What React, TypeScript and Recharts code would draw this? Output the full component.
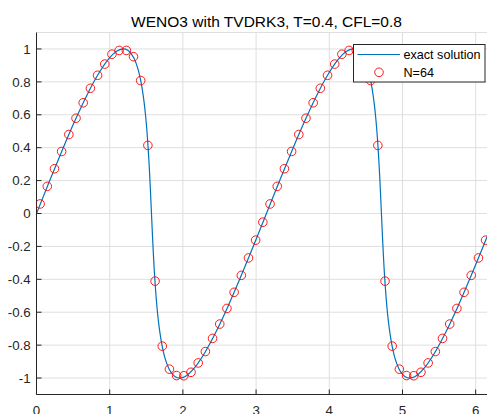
import React from "react";
import { ComposedChart, Line, Scatter, XAxis, YAxis, CartesianGrid } from "recharts";

const TITLE = "WENO3 with TVDRK3, T=0.4, CFL=0.8";
const xTicks = [0, 1, 2, 3, 4, 5, 6];
const yTicks = [-1, -0.8, -0.6, -0.4, -0.2, 0, 0.2, 0.4, 0.6, 0.8, 1];

// exact solution curve
const exactX = [
  0, 0.1795, 0.3558, 0.5258, 0.687, 0.8366, 0.9728, 1.0942, 1.149, 1.1854,
  1.2467, 1.2895, 1.3285, 1.3637, 1.3953, 1.4234, 1.4483, 1.4702, 1.4894, 1.5062,
  1.521, 1.534, 1.5457, 1.5564, 1.5708, 1.5852, 1.5959, 1.6076, 1.6206, 1.6354,
  1.6522, 1.6714, 1.6933, 1.7182, 1.7463, 1.7779, 1.8131, 1.8521, 1.8949, 1.9562,
  1.9926, 2.0474, 2.1688, 2.305, 2.4546, 2.6158, 2.7858, 2.9621, 3.1416,
  3.3211, 3.4974, 3.6674, 3.8286, 3.9782, 4.1144, 4.2358, 4.2906, 4.327, 4.3883,
  4.4311, 4.4701, 4.5053, 4.5369, 4.565, 4.5899, 4.6118, 4.631, 4.6478, 4.6626,
  4.6756, 4.6873, 4.698, 4.7124, 4.7268, 4.7375, 4.7492, 4.7622, 4.777, 4.7938,
  4.813, 4.8349, 4.8598, 4.8879, 4.9195, 4.9547, 4.9937, 5.0365, 5.0978, 5.1342,
  5.189, 5.3104, 5.4466, 5.5962, 5.7574, 5.9274, 6.1037, 6.2832,
];
const exactY = [
  0, 0.1987, 0.3894, 0.5646, 0.7174, 0.8415, 0.932, 0.9854, 0.9975, 1,
  0.9917, 0.9738, 0.9463, 0.9093, 0.8632, 0.8085, 0.7457, 0.6755, 0.5985, 0.5155,
  0.4274, 0.335, 0.2392, 0.1411, 0, -0.1411, -0.2392, -0.335, -0.4274, -0.5155,
  -0.5985, -0.6755, -0.7457, -0.8085, -0.8632, -0.9093, -0.9463, -0.9738, -0.9917, -1,
  -0.9975, -0.9854, -0.932, -0.8415, -0.7174, -0.5646, -0.3894, -0.1987, 0,
  0.1987, 0.3894, 0.5646, 0.7174, 0.8415, 0.932, 0.9854, 0.9975, 1, 0.9917,
  0.9738, 0.9463, 0.9093, 0.8632, 0.8085, 0.7457, 0.6755, 0.5985, 0.5155, 0.4274,
  0.335, 0.2392, 0.1411, 0, -0.1411, -0.2392, -0.335, -0.4274, -0.5155, -0.5985,
  -0.6755, -0.7457, -0.8085, -0.8632, -0.9093, -0.9463, -0.9738, -0.9917, -1, -0.9975,
  -0.9854, -0.932, -0.8415, -0.7174, -0.5646, -0.3894, -0.1987, 0,
];

// N=64 numerical cell values
const numX = [
  0.0491, 0.1473, 0.2454, 0.3436, 0.4418, 0.54, 0.6381, 0.7363, 0.8345, 0.9327,
  1.0308, 1.129, 1.2272, 1.3254, 1.4235, 1.5217, 1.6199, 1.7181, 1.8162, 1.9144,
  2.0126, 2.1108, 2.2089, 2.3071, 2.4053, 2.5035, 2.6016, 2.6998, 2.798, 2.8962,
  2.9943, 3.0925, 3.1907, 3.2889, 3.387, 3.4852, 3.5834, 3.6816, 3.7797, 3.8779,
  3.9761, 4.0743, 4.1724, 4.2706, 4.3688, 4.467, 4.5651, 4.6633, 4.7615, 4.8597,
  4.9578, 5.056, 5.1542, 5.2524, 5.3505, 5.4487, 5.5469, 5.6451, 5.7432, 5.8414,
  5.9396, 6.0378, 6.1359, 6.2341,
];
const numY = [
  0.058, 0.165, 0.272, 0.377, 0.48, 0.579, 0.673, 0.761, 0.84, 0.908,
  0.968, 0.991, 0.991, 0.953, 0.808, 0.414, -0.411, -0.806, -0.946, -0.985,
  -0.986, -0.965, -0.908, -0.839, -0.759, -0.672, -0.577, -0.479, -0.376, -0.27,
  -0.162, -0.053, 0.058, 0.165, 0.272, 0.377, 0.48, 0.579, 0.673, 0.761,
  0.84, 0.908, 0.968, 0.991, 0.991, 0.953, 0.808, 0.414, -0.411, -0.806,
  -0.946, -0.985, -0.986, -0.965, -0.908, -0.839, -0.759, -0.672, -0.577, -0.479,
  -0.376, -0.27, -0.162, -0.053,
];

const exactData = exactX.map((x, i) => ({ x, y: exactY[i] }));
const numData = numX.map((x, i) => ({ x, y: numY[i] }));

const FONT = "'Liberation Sans', Arial, Helvetica, sans-serif";
const AX = "#262626";
const BLUE = "#0072BD";
const RED = "#ff0000";

const Circle = (props: any) => {
  const { cx, cy } = props;
  if (cx == null || cy == null) return null;
  return <circle cx={cx} cy={cy} r={4.3} fill="none" stroke={RED} strokeWidth={0.9} />;
};

export default function App() {
  return (
    <div
      style={{
        position: "absolute",
        left: 0,
        top: 0,
        width: 487,
        height: 414,
        overflow: "hidden",
        background: "#fff",
        fontFamily: FONT,
      }}
    >
      <ComposedChart
        width={520}
        height={414}
        margin={{ top: 32.5, right: 23.6, bottom: 0, left: 0 }}
      >
        <CartesianGrid stroke="#dfdfdf" strokeWidth={1} />
        <XAxis
          xAxisId={0}
          type="number"
          dataKey="x"
          domain={[0, 6.2832]}
          ticks={xTicks}
          allowDataOverflow
          height={19.5}
          tickSize={-5}
          tickMargin={15.7}
          stroke={AX}
          tick={{ fill: AX, fontSize: 13.3, fontFamily: FONT }}
          axisLine={{ stroke: AX, strokeWidth: 1 }}
          tickLine={{ stroke: AX }}
        />
        <XAxis
          xAxisId="top"
          orientation="top"
          type="number"
          domain={[0, 6.2832]}
          ticks={xTicks}
          allowDataOverflow
          height={0}
          tickSize={-5}
          tickFormatter={() => ""}
          stroke={AX}
          axisLine={{ stroke: AX, strokeWidth: 1 }}
          tickLine={{ stroke: AX }}
        />
        <YAxis
          type="number"
          dataKey="y"
          domain={[-1.1, 1.1]}
          ticks={yTicks}
          allowDataOverflow
          width={36.5}
          tickSize={-5}
          tickMargin={10.8}
          stroke={AX}
          tick={{ fill: AX, fontSize: 13.3, fontFamily: FONT }}
          axisLine={{ stroke: AX, strokeWidth: 1 }}
          tickLine={{ stroke: AX }}
        />
        <Line
          data={exactData}
          dataKey="y"
          type="monotone"
          stroke={BLUE}
          strokeWidth={1.2}
          dot={false}
          activeDot={false}
          isAnimationActive={false}
        />
        <Scatter
          data={numData}
          dataKey="y"
          shape={<Circle />}
          isAnimationActive={false}
        />
      </ComposedChart>
      <svg
        width={487}
        height={414}
        style={{ position: "absolute", left: 0, top: 0, pointerEvents: "none" }}
      >
        <text
          x={266.5}
          y={26.7}
          textAnchor="middle"
          fontSize={15.5}
          fontFamily={FONT}
          fill="#000"
        >
          {TITLE}
        </text>
        <rect x={353.5} y={44.5} width={131.5} height={37.5} fill="#fff" stroke={AX} strokeWidth={1} />
        <line x1={357.5} y1={54.5} x2={400} y2={54.5} stroke={BLUE} strokeWidth={1.2} />
        <text x={403.5} y={59} fontSize={12.6} fontFamily={FONT} fill="#000">
          exact solution
        </text>
        <circle cx={379} cy={72.3} r={4.3} fill="none" stroke={RED} strokeWidth={0.9} />
        <text x={403.5} y={76.7} fontSize={12.6} fontFamily={FONT} fill="#000">
          N=64
        </text>
      </svg>
    </div>
  );
}
